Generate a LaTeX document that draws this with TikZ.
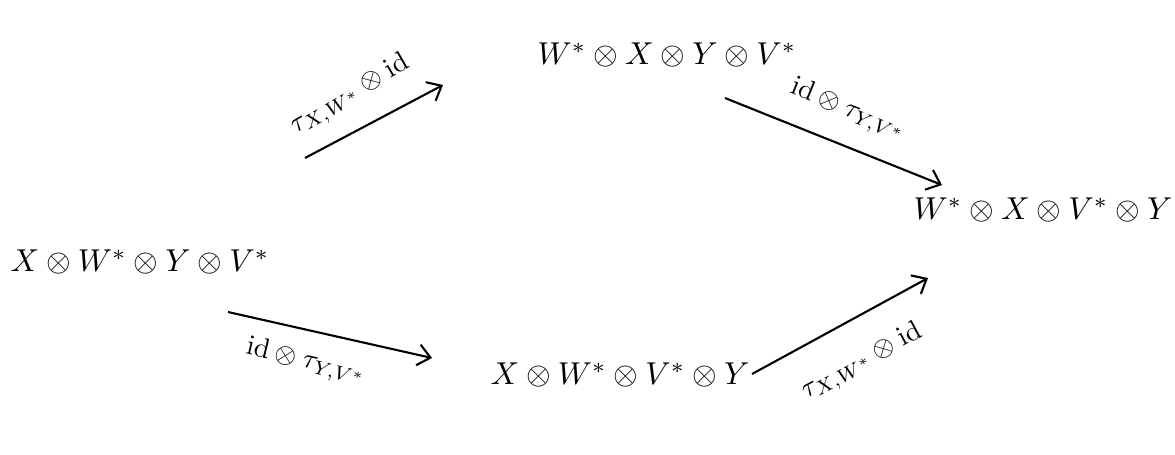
\documentclass[tikz,border=0pt]{standalone}
\usetikzlibrary{arrows.meta}
\tikzset{
  obj/.style={inner sep=0pt, scale=1.8},
  lbl/.style={inner sep=0pt, scale=1.6},
  mor/.style={line width=1.2pt, -{Straight Barb[length=7pt,width=12pt,line width=1.2pt]}},
}
\begin{document}
\begin{tikzpicture}[x=0.02cm,y=-0.02cm]
\useasboundingbox (0,0) rectangle (1175,454);
\node[obj] (L) at (140,262) {$X\otimes W^*\otimes Y\otimes V^*$};
\node[obj] (T) at (667,55) {$W^*\otimes X\otimes Y\otimes V^*$};
\node[obj] (R) at (1043,210) {$W^*\otimes X\otimes V^*\otimes Y$};
\node[obj] (B) at (620,375) {$X\otimes W^*\otimes V^*\otimes Y$};
% arrow end points
\coordinate (a1) at (305,158); \coordinate (a2) at (443,85);
\coordinate (b1) at (725,98);  \coordinate (b2) at (942,185);
\coordinate (c1) at (228,312); \coordinate (c2) at (432,358);
\coordinate (d1) at (752,374); \coordinate (d2) at (928,278);
\draw[mor] (a1) -- (a2);
\draw[mor] (b1) -- (b2);
\draw[mor] (c1) -- (c2);
\draw[mor] (d1) -- (d2);
\node[lbl, rotate=30] (la) at (350,95) {$\tau_{X,W^*}\otimes\mathrm{id}$};
\node[lbl, rotate=-22] (lb) at (848,110) {$\mathrm{id}\otimes\tau_{Y,V^*}$};
\node[lbl, rotate=-13] (lc) at (306,362) {$\mathrm{id}\otimes\tau_{Y,V^*}$};
\node[lbl, rotate=28] (ld) at (862,362) {$\tau_{X,W^*}\otimes\mathrm{id}$};
\end{tikzpicture}
\end{document}
